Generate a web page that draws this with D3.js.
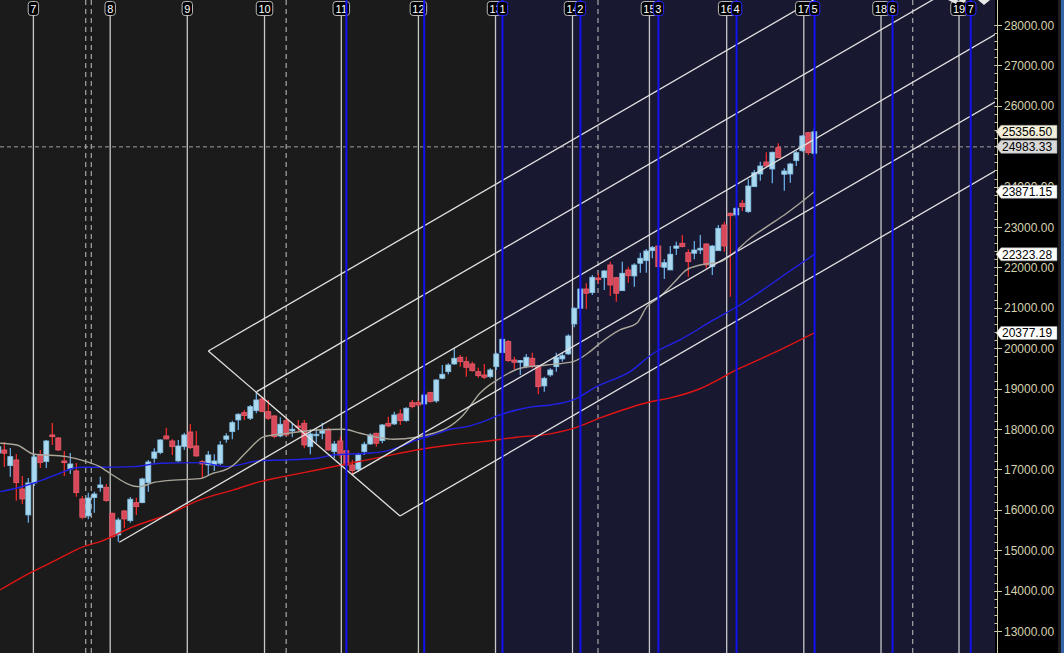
<!DOCTYPE html>
<html>
<head>
<meta charset="utf-8">
<title>Weekly chart</title>
<script src="https://d3js.org/d3.v7.min.js"></script>
<style>
  body { margin: 0; background: #000; }
  svg { display: block; }
  text { font-family: "Liberation Sans", Arial, sans-serif; }
</style>
</head>
<body>
<svg width="1064" height="653"></svg>
<script>
// weekly bars, [open, high, low, close]
var ohlc = [
  [17407,17704,17283,17563],[17481,17679,17068,17400],[17093,17531,16821,17316],[17234,17382,16227,16672],
  [16516,16838,16145,16269],[15873,16788,15682,16665],[16665,17382,16590,17308],[17358,17481,17036,17167],
  [17192,17729,17036,17704],[17853,18150,17605,17811],[17778,17803,17457,17481],[17209,17457,16838,17167],
  [17011,17407,16887,17135],[16962,17160,16326,16425],[16269,16343,15766,15816],[15848,16425,15766,16293],
  [16301,16449,15930,16392],[16548,16821,16449,16615],[16558,16640,16202,16227],[15915,15930,15311,15336],
  [15378,15806,15212,15749],[15972,15990,15544,15774],[15732,16318,15682,16262],[16177,16301,15873,16078],
  [16177,16796,16162,16764],[16672,17234,16449,17184],[17276,17524,17167,17432],[17415,17746,17375,17729],
  [17828,18033,17746,17754],[17704,17746,17358,17563],[17209,17729,17192,17580],[17563,17910,17481,17853],
  [17927,18125,17499,17538],[17580,17952,17316,17333],[17192,17234,16796,17135],[17110,17457,16863,17358],
  [17110,17375,16962,17209],[17152,17704,17110,17605],[17746,17895,17662,17828],[17934,18207,17746,18157],
  [18224,18390,17977,18365],[18405,18471,18224,18330],[18266,18595,18224,18553],[18454,18900,18390,18719],
  [18744,18801,18429,18429],[18429,18719,18224,18266],[18323,18348,17771,17811],[17828,18291,17796,18118],
  [18207,18266,17828,17853],[17952,18142,17796,17994],[18075,18224,17952,18044],[18142,18224,17524,17605],
  [17563,17994,17375,17877],[17835,17994,17662,17870],[17895,18157,17746,17959],[17994,18033,17464,17481],
  [17439,17704,17276,17630],[17704,17811,17276,17358],[17464,17481,17068,17110],[17110,17234,16887,16969],
  [17004,17415,16944,17358],[17439,17687,17358,17623],[17630,17895,17605,17853],[17895,17910,17563,17647],
  [17712,18125,17647,18100],[18142,18306,18044,18075],[18125,18429,18100,18348],[18373,18489,18100,18207],
  [18207,18538,18182,18514],[18652,18719,18514,18553],[18652,18702,18570,18595],[18620,18917,18595,18843],
  [18900,18925,18652,18677],[18694,19231,18652,19214],[19256,19585,19231,19355],[19419,19627,19355,19585],
  [19610,19999,19585,19751],[19776,19833,19543,19667],[19667,19791,19296,19528],[19610,19667,19419,19444],
  [19419,19518,19271,19320],[19338,19610,19239,19281],[19296,19504,19256,19462],[19543,19890,19462,19858],
  [19890,20246,19874,20221],[20162,20204,19667,19692],[19709,19791,19486,19652],[19652,19709,19338,19692],
  [19543,19858,19504,19776],[19751,19890,19504,19543],[19543,19585,18860,19048],[19066,19296,18925,19256],
  [19338,19504,19296,19462],[19543,19890,19419,19776],[19734,19890,19667,19815],[19858,20345,19833,20303],
  [20600,21013,20518,20989],[20989,21483,20781,21466],[21466,21607,20971,21360],[21375,21813,21318,21756],
  [21738,21855,21607,21696],[21746,21937,21441,21912],[22060,22142,21293,21565],[21746,21771,21152,21360],
  [21424,22142,21417,21855],[21937,22018,21622,21795],[21788,22102,21523,22060],[22102,22365,21870,22226],
  [22167,22456,21870,22407],[22414,22530,22226,22498],[22530,22540,21994,22018],[22003,22201,21714,22117],
  [21937,22530,21937,22326],[22474,22637,22308,22530],[22597,22803,22497,22513],[22365,22449,21771,22142],
  [22350,22654,22201,22431],[22431,22803,22332,22474],[22580,22597,21979,22060],[22018,22555,21813,22530],
  [22414,23050,22414,22969],[23050,23132,22389,22530],[23340,23360,21276,23280],[23298,23488,23216,23464],
  [23587,23669,23397,23503],[23379,24181,23355,24015],[23998,24411,23998,24345],[24312,24617,24147,24510],
  [24609,24850,24493,24510],[24436,24865,24082,24850],[24963,25072,24701,24716],[24305,24454,23899,24387],
  [24312,24592,24097,24560],[24642,24882,24510,24840],[24889,25278,24865,25253],[25335,25359,24783,24840],
  [24825,25444,24741,25356.5]
];

// moving averages, [bar, price]
var maGray = [[0.3,17647],[3.1,17605],[5.8,17382],[11.4,17316],[14.7,17192],[17,17061],[18.6,16905],
  [22.5,16590],[23.6,16573],[25.8,16672],[28.1,16722],[33.6,16771],[35.8,16905],[38.1,17004],[39.2,17110],
  [41.4,17439],[44.3,17811],[47.5,17878],[53.1,17977],[57.5,17994],[60.3,17895],[63.1,17796],[65.8,17746],
  [69.7,17796],[72.5,17895],[74.7,18019],[77.5,18348],[80.3,18892],[83.6,19256],[87,19504],[91.4,19585],
  [95.8,19667],[98.6,19915],[100.3,20122],[103.6,20452],[106.4,20617],[108.1,21028],[110.3,21276],
  [112.5,21607],[114.7,21937],[117,22060],[120.3,22135],[122.5,22350],[125.3,22721],[128.1,23008],
  [131.4,23340],[133.6,23587],[136,23871.15]];
var maBlue = [[0.3,16449],[3.6,16558],[5.8,16657],[8.1,16781],[10.3,16905],[12.5,17028],[14.2,17053],
  [17,17053],[22.5,17068],[27,17152],[33.6,17167],[38.1,17068],[43.6,17217],[47.5,17234],[53.1,17276],
  [55.8,17358],[61.4,17400],[64.2,17439],[67,17563],[69.7,17729],[72.5,17853],[75.3,17994],[78.1,18058],
  [80.8,18182],[83.6,18348],[86.4,18471],[89.2,18553],[92,18595],[95.8,18719],[99.7,19048],[105.3,19420],
  [109.2,19875],[113.6,20204],[119.2,20699],[123.6,21070],[127,21400],[131.4,21855],[136,22323.28]];
var maRed = [[0.3,14016],[5.3,14437],[9.7,14759],[14.2,15089],[17,15212],[22.5,15583],[28.1,15873],
  [33.6,16244],[39.2,16492],[43.6,16697],[47.5,16821],[53.1,16986],[58.6,17152],[64.2,17316],[69.7,17481],
  [75.3,17605],[80.8,17687],[86.4,17796],[92,17878],[96.1,18026],[100.3,18274],[108.6,18669],[112,18769],
  [116.4,18966],[123.6,19504],[130.3,19957],[136,20377.19]];

// time lines
var gridLabels = ['7','8','9','10','11','12','13','14','15','16','17','18','19'];
var gridBars = [5.85,18.65,31.5,44.37,57.17,70.02,82.87,95.7,108.52,121.4,134.25,147.12,160.12];
var cycleBars = [58.02,70.98,84.03,97.02,110.02,123.05,136.05,149.05,162.07];
var cycleLabels = ['1','2','3','4','5','6','7'];
var cycleLabelBars = [84.03,97.02,110.02,123.05,136.05,149.05,162.07];
var dashBars = [14.57,15.5,47.98,99.95,152.4];
var shadeFrom = 82.95;

// drawn channel: one falling edge and parallel rising lines
var edgePoints = [[35.0,19932],[66.95,15848]];
var channelStarts = [[35.0,19932],[43.07,18924],[20.17,15197],[58.95,16870],[66.95,15848]];
var channelSlope = 86.1;   // price per bar

var refLevel = 24983.33;
var priceTicks = [13000,14000,15000,16000,17000,18000,19000,20000,21000,22000,23000,24000,25000,26000,27000,28000];
var tagValues = [25356.50, 24983.33, 23871.15, 22323.28, 20377.19];

var W = 1064, H = 653, plotR = 995;
var svg = d3.select("svg");
var x = d3.scaleLinear().domain([0, 166]).range([-1.7, 994.3]);
var y = d3.scaleLinear().domain([13000, 28000]).range([631, 25]);

svg.append("defs").append("clipPath").attr("id", "plot")
  .append("rect").attr("x", 0).attr("y", 0).attr("width", plotR).attr("height", H);

// backgrounds
svg.append("rect").attr("x", 0).attr("y", 0).attr("width", plotR).attr("height", H).attr("fill", "#1b1b1b");
svg.append("rect").attr("x", x(shadeFrom)).attr("y", 0).attr("width", plotR - x(shadeFrom)).attr("height", H).attr("fill", "#181830");
svg.append("rect").attr("x", plotR).attr("y", 0).attr("width", W - plotR).attr("height", H).attr("fill", "#000");

var plot = svg.append("g").attr("clip-path", "url(#plot)");

// white time lines
plot.selectAll("line.grid").data(gridBars).enter().append("line")
  .attr("class", "grid")
  .attr("x1", d => x(d)).attr("x2", d => x(d))
  .attr("y1", 16).attr("y2", H)
  .attr("stroke", "#c8c8c8").attr("stroke-width", 1.3);

plot.selectAll("line.dash").data(dashBars).enter().append("line")
  .attr("x1", d => x(d)).attr("x2", d => x(d))
  .attr("y1", 0).attr("y2", H)
  .attr("stroke", "#a8a8a8").attr("stroke-width", 1.2).attr("stroke-dasharray", "5,4");

plot.append("line")
  .attr("x1", 0).attr("x2", plotR)
  .attr("y1", y(refLevel)).attr("y2", y(refLevel))
  .attr("stroke", "#a0a0a0").attr("stroke-width", 1).attr("stroke-dasharray", "4,3");

// candles
var bw = 5;
var bars = plot.selectAll("g.bar").data(ohlc).enter().append("g").attr("class", "bar");
bars.append("line")
  .attr("x1", (d, i) => x(i)).attr("x2", (d, i) => x(i))
  .attr("y1", d => y(d[1])).attr("y2", d => y(d[2]))
  .attr("stroke", d => d[3] < d[0] ? "#ff2c2c" : "#6fb6f2").attr("stroke-width", 1.2);
bars.append("rect")
  .attr("x", (d, i) => x(i) - bw / 2)
  .attr("y", d => y(Math.max(d[0], d[3])))
  .attr("width", bw)
  .attr("height", d => Math.max(1.5, Math.abs(y(d[0]) - y(d[3]))))
  .attr("fill", d => d[3] < d[0] ? "#d9485a" : "#aad8ef")
  .attr("stroke", d => d[3] < d[0] ? "#e8606c" : "#84c2e6")
  .attr("stroke-width", 0.8);

// moving averages
var line = d3.line().x(d => x(d[0])).y(d => y(d[1])).curve(d3.curveMonotoneX);
plot.append("path").datum(maRed).attr("d", line).attr("fill", "none").attr("stroke", "#e01414").attr("stroke-width", 1.4);
plot.append("path").datum(maBlue).attr("d", line).attr("fill", "none").attr("stroke", "#2222e6").attr("stroke-width", 1.4);
plot.append("path").datum(maGray).attr("d", line).attr("fill", "none").attr("stroke", "#aaa69a").attr("stroke-width", 1.4);

// channel
var seg = d3.line().x(d => x(d[0])).y(d => y(d[1]));
plot.append("path").datum(edgePoints).attr("d", seg).attr("fill", "none").attr("stroke", "#e2e2e2").attr("stroke-width", 1.3);
plot.selectAll("path.ch").data(channelStarts).enter().append("path")
  .attr("class", "ch")
  .attr("d", d => seg([d, [180, d[1] + channelSlope * (180 - d[0])]]))
  .attr("fill", "none").attr("stroke", "#e2e2e2").attr("stroke-width", 1.3);

// top labels
function topLabels(labels, pos, stroke) {
  var g = svg.selectAll(null).data(labels).enter().append("g")
    .attr("transform", (d, i) => "translate(" + x(pos[i]) + ",0)");
  g.append("rect")
    .attr("x", d => -(4.3 + 6.1 * d.length) / 2).attr("y", 1.5)
    .attr("width", d => 4.3 + 6.1 * d.length).attr("height", 14)
    .attr("rx", 3).attr("fill", "#000").attr("stroke", stroke).attr("stroke-width", 1);
  g.append("text").attr("x", 0).attr("y", 13)
    .attr("text-anchor", "middle").attr("fill", "#fff").attr("font-size", 11)
    .text(d => d);
}
topLabels(gridLabels, gridBars, "#b8b8b8");

// blue cycle lines (run over the white labels), then their own labels
svg.append("g").attr("clip-path", "url(#plot)")
  .selectAll("line").data(cycleBars).enter().append("line")
  .attr("x1", d => x(d)).attr("x2", d => x(d))
  .attr("y1", 0).attr("y2", H)
  .attr("stroke", "#1212f0").attr("stroke-width", 2);
topLabels(cycleLabels, cycleLabelBars, "#2a2aff");

// little toolbar arrows at top right
svg.append("path").attr("d", "M948,0 L956,4 L958,0 Z M958,0 L964,3 L966,0 Z").attr("fill", "#e8e8e8");
svg.append("path").attr("d", "M978,0 L984,5 L990,0 Z").attr("fill", "#e8e8e8");

// price axis
var ax = svg.append("g");
ax.append("line").attr("x1", 997.5).attr("x2", 997.5).attr("y1", 0).attr("y2", H)
  .attr("stroke", "#cfcaa6").attr("stroke-width", 1);
var minor = y.ticks(75);
ax.selectAll("line.mt").data(minor).enter().append("line")
  .attr("x1", 994.5).attr("x2", 997.5)
  .attr("y1", d => Math.round(y(d)) + 0.5).attr("y2", d => Math.round(y(d)) + 0.5)
  .attr("stroke", "#cfcaa6");
ax.selectAll("line.MT").data(priceTicks).enter().append("line")
  .attr("x1", 994.5).attr("x2", 1002)
  .attr("y1", d => Math.round(y(d)) + 0.5).attr("y2", d => Math.round(y(d)) + 0.5)
  .attr("stroke", "#cfcaa6");
// a tick label sitting right under a value tag is hidden by it
var shownTicks = priceTicks.filter(t => tagValues.every(v => Math.abs(y(t) - y(v)) > 3));
ax.selectAll("text.tk").data(shownTicks).enter().append("text")
  .attr("x", 1004).attr("y", d => y(d) + 4.5)
  .attr("fill", "#d6d2ae").attr("font-size", 12)
  .text(d3.format(".2f"));

// value tags
var tagFill = ["#f3efd8", "#d9d9d9", "#ffffff", "#ffffff", "#ffffff"];
var tags = ax.selectAll("g.tag").data(tagValues).enter().append("g")
  .attr("transform", d => "translate(0," + y(d) + ")");
tags.append("path")
  .attr("d", "M996,0 L1001,-6.5 L1057,-6.5 L1057,6.5 L1001,6.5 Z")
  .attr("fill", (d, i) => tagFill[i]).attr("stroke", "#9a9a9a").attr("stroke-width", 0.6);
tags.append("text").attr("x", 1002).attr("y", 4.5)
  .attr("fill", "#000").attr("font-size", 12)
  .text(d3.format(".2f"));

// window edge
svg.append("rect").attr("x", 1058).attr("y", 0).attr("width", 3).attr("height", H).attr("fill", "#1e1e1e");
svg.append("rect").attr("x", 1061).attr("y", 0).attr("width", 3).attr("height", H).attr("fill", "#3565a6");
</script>
</body>
</html>
